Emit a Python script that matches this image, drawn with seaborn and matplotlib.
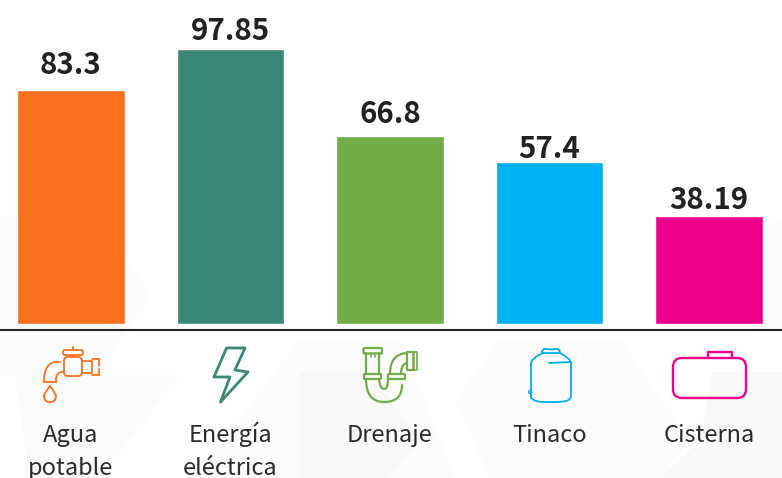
#!/usr/bin/env python3

import matplotlib
matplotlib.use("Agg")
import matplotlib.pyplot as plt
import numpy as np
import pandas as pd
import seaborn as sns
from matplotlib.patches import Circle, FancyBboxPatch, PathPatch, Polygon
from matplotlib.path import Path

categories = ["Agua\npotable", "Energía\neléctrica", "Drenaje", "Tinaco", "Cisterna"]
values = [83.3, 97.85, 66.8, 57.4, 38.19]
value_labels = ["83.3", "97.85", "66.8", "57.4", "38.19"]
colors = ["#F97020", "#3C8876", "#72AC47", "#00B0F0", "#EC008C"]

W, H = 782, 478
BASE = 324  # pixel row of the bars' base

sns.set_theme(style="white")
plt.rcParams["font.family"] = ["Noto Sans CJK SC", "DejaVu Sans"]

fig = plt.figure(figsize=(W / 100, H / 100), dpi=100, facecolor="white")

# faint hexagon background, pixel coordinates
bg = fig.add_axes([0, 0, 1, 1], zorder=0)
bg.set_xlim(0, W)
bg.set_ylim(H, 0)
bg.axis("off")
hexes = [
    ([(-60, 215), (95, 215), (152, 295), (95, 375), (-60, 375)], "#FCFCFC"),
    ([(15, 375), (180, 375), (100, 478), (30, 478)], "#FBFBFB"),
    ([(195, 478), (300, 340), (400, 340), (455, 478)], "#FCFCFC"),
    ([(300, 373), (370, 373), (420, 440), (385, 478), (300, 478)], "#F8F8F8"),
    ([(455, 400), (500, 340), (620, 340), (690, 440), (660, 478), (490, 478)], "#FCFCFC"),
    ([(712, 372), (782, 372), (782, 478), (660, 478), (700, 440)], "#F9F9F9"),
    ([(700, 220), (782, 220), (782, 330), (760, 330)], "#FCFCFC"),
]
for pts, c in hexes:
    bg.add_patch(Polygon(pts, closed=True, facecolor=c, edgecolor="none"))

# bars
ax = fig.add_axes([0, (H - BASE) / H, 1, BASE / H], zorder=2)
ax.patch.set_alpha(0)
df = pd.DataFrame({"category": categories, "value": values})
sns.barplot(data=df, x="category", y="value", hue="category", palette=colors,
            saturation=1, width=0.675, legend=False, ax=ax)
ax.set_xlim(-0.444, 4.458)
ax.set_ylim(0, BASE / 2.815)
ax.set_xlabel("")
ax.set_ylabel("")
ax.set_yticks([])
label_pads = [7, 2, 5, -1, 1]
for c, lab, pad in zip(ax.containers, value_labels, label_pads):
    ax.bar_label(c, labels=[lab], padding=pad, fontsize=21.2, fontweight="bold", color="#222222")
# category names sit under the icons, one text per line
ax.tick_params(axis="x", length=0, labelbottom=False)
for i, cat in enumerate(categories):
    for j, part in enumerate(cat.split("\n")):
        ax.annotate(part, xy=(i, 0), xycoords=("data", "axes fraction"), xytext=(0, -85 - 23.5 * j),
                    textcoords="offset points", ha="center", va="baseline", fontsize=17, color="#2B2B2B",
                    annotation_clip=False)
for s in ["top", "left", "right"]:
    ax.spines[s].set_visible(False)
ax.spines["bottom"].set_position(("outward", 4))
ax.spines["bottom"].set_linewidth(1.5)
ax.spines["bottom"].set_color("#222222")

# icons, pixel coordinates
ic = fig.add_axes([0, 0, 1, 1], zorder=3)
ic.set_xlim(0, W)
ic.set_ylim(H, 0)
ic.axis("off")
LW = 1.3


def line(pts, color, lw=LW):
    pts = np.array(pts)
    ic.plot(pts[:, 0], pts[:, 1], color=color, lw=lw, solid_capstyle="round", solid_joinstyle="round")


def curve(verts, codes, color, lw=LW):
    ic.add_patch(PathPatch(Path(verts, codes), fill=False, edgecolor=color, lw=lw, capstyle="round"))


def rbox(x, y, w, h, r, color, lw=LW):
    ic.add_patch(FancyBboxPatch((x + r, y + r), w - 2 * r, h - 2 * r, boxstyle=f"round,pad={r},rounding_size={r}",
                                fill=False, edgecolor=color, lw=lw))


M, C3 = Path.MOVETO, Path.CURVE3

# faucet
c = colors[0]
rbox(64, 357, 18, 19, 4, c)
rbox(63, 350, 20, 5, 2, c)
line([(73, 347), (73, 350)], c)
line([(73, 355), (73, 357)], c)
line([(82, 361), (92, 361), (92, 373), (82, 373)], c)
line([(92, 359), (99, 359)], c)
line([(92, 375), (99, 375)], c)
line([(99, 359), (99, 366)], c)
line([(99, 369), (99, 375)], c)
curve([(60, 362), (44, 360), (44, 382)], [M, C3, C3], c)
line([(44, 382), (56, 382)], c)
curve([(64, 372), (55, 371), (56, 382)], [M, C3, C3], c)
curve([(50, 386), (44, 394), (44, 396), (44, 402), (50, 402), (56, 402), (56, 396), (56, 394), (50, 386)],
      [M, C3, C3, C3, C3, C3, C3, C3, C3], c)

# lightning bolt
c = colors[1]
ic.add_patch(Polygon([(226.5, 348), (245, 348), (235, 370), (248, 372), (220.5, 402), (230, 377), (214, 377)],
                     closed=True, fill=False, edgecolor=c, lw=2, joinstyle="round"))

# drain pipe
c = colors[2]
rbox(363.5, 348, 18.5, 5.5, 1, c, 1.6)
rbox(364, 374, 17, 5, 1, c, 1.6)
rbox(388, 374, 17, 5, 1, c, 1.6)
line([(366, 353), (366, 374)], c, 1.6)
line([(379, 353), (379, 374)], c, 1.6)
line([(371, 353), (371, 357)], c, 1.2)
line([(375, 353), (375, 357)], c, 1.2)
curve([(366, 379), (366, 402), (384, 402), (402, 402), (402, 385)], [M, C3, C3, C3, C3], c, 1.6)
curve([(379, 379), (380, 389), (384, 389), (388, 389), (388, 379)], [M, C3, C3, C3, C3], c, 1.6)
curve([(390, 374), (390, 354), (407, 353)], [M, C3, C3], c, 1.6)
curve([(401, 374), (401, 364), (407, 363)], [M, C3, C3], c, 1.6)
rbox(407, 352, 6.5, 18, 0.5, c, 1.6)
rbox(413.5, 352, 3.5, 18, 0.5, c, 1.2)

# water tank
c = colors[3]
curve([(543, 353), (531, 358), (531, 364)], [M, C3, C3], c)
line([(531, 364), (531, 396)], c)
curve([(531, 396), (531, 403), (551, 402), (571, 403), (571, 396)], [M, C3, C3, C3, C3], c)
line([(571, 396), (571, 363)], c)
curve([(571, 363), (571, 359), (560, 353)], [M, C3, C3], c)
line([(543, 353), (560, 353)], c)
curve([(542, 353), (542, 348), (547, 349), (551, 350), (555, 349), (560, 348), (560, 353)],
      [M, C3, C3, C3, C3, C3, C3], c)
line([(549, 363), (571, 362)], c)
ic.add_patch(Circle((530, 392), 1.5, fill=False, edgecolor=c, lw=1))

# cistern
c = colors[4]
rbox(673, 358, 73, 40, 9, c, 1.7)
line([(708, 358), (708, 352), (732, 352), (732, 358)], c, 1.7)

fig.savefig("out.png", dpi=100)
